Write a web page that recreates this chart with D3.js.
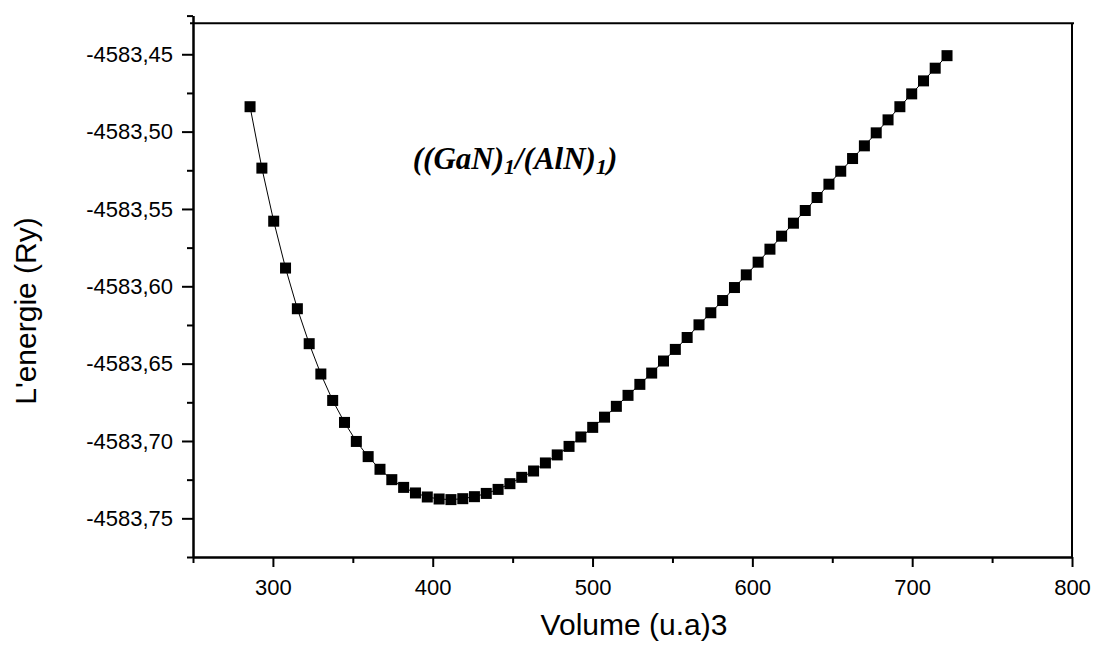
<!DOCTYPE html>
<html>
<head>
<meta charset="utf-8">
<script src="https://cdn.jsdelivr.net/npm/d3@7"></script>
<style>
  body { margin: 0; background: #fff; }
  svg { display: block; }
  .tick text { font-family: Arial, "Liberation Sans", sans-serif; font-size: 22px; fill: #000; }
</style>
</head>
<body>
<div class="energy-chart"></div>
<script>
// volume (u.a)^3
let volumes = [
  285.7, 293.1, 300.5, 307.9, 315.3, 322.7, 330.0, 337.4, 344.8, 352.2,
  359.6, 367.0, 374.4, 381.8, 389.2, 396.6, 404.0, 411.4, 418.8, 426.1,
  433.5, 440.9, 448.3, 455.7, 463.1, 470.5, 477.9, 485.3, 492.7, 500.1,
  507.5, 514.9, 522.2, 529.6, 537.0, 544.4, 551.8, 559.2, 566.6, 574.0,
  581.4, 588.8, 596.2, 603.6, 611.0, 618.3, 625.7, 633.1, 640.5, 647.9,
  655.3, 662.7, 670.1, 677.5, 684.9, 692.3, 699.7, 707.1, 714.4, 721.8
];

// energy (Ry)
let energies = [
  -4583.4839, -4583.5236, -4583.5579, -4583.5882, -4583.6145, -4583.6371, -4583.6567, -4583.6738, -4583.6880, -4583.7003,
  -4583.7101, -4583.7183, -4583.7250, -4583.7300, -4583.7336, -4583.7362, -4583.7375, -4583.7379, -4583.7373, -4583.7360,
  -4583.7339, -4583.7313, -4583.7276, -4583.7235, -4583.7194, -4583.7142, -4583.7090, -4583.7035, -4583.6974, -4583.6912,
  -4583.6846, -4583.6776, -4583.6705, -4583.6634, -4583.6561, -4583.6483, -4583.6408, -4583.6331, -4583.6249, -4583.6171,
  -4583.6092, -4583.6008, -4583.5926, -4583.5844, -4583.5760, -4583.5676, -4583.5592, -4583.5510, -4583.5426, -4583.5340,
  -4583.5256, -4583.5174, -4583.5092, -4583.5008, -4583.4924, -4583.4839, -4583.4756, -4583.4672, -4583.4590, -4583.4509
];

let xTicks = [300, 400, 500, 600, 700, 800];
let xMinorTicks = [250, 350, 450, 550, 650, 750];
let yTicks = [-4583.45, -4583.50, -4583.55, -4583.60, -4583.65, -4583.70, -4583.75];
let yMinorTicks = [-4583.425, -4583.475, -4583.525, -4583.575, -4583.625, -4583.675, -4583.725, -4583.775];

let xDomain = [250, 800];
let yDomain = [-4583.775, -4583.425];

let data = volumes.map((v, i) => ({ volume: v, energy: energies[i] }));

let svg = d3.select(".energy-chart").append("svg")
  .attr("width", 1096)
  .attr("height", 645);

let x = d3.scaleLinear().domain(xDomain).range([193, 1072]);
let y = d3.scaleLinear().domain(yDomain).range([557, 15.6]);

// plain hyphen and decimal comma, like the original
const commaFormat = d => d3.format(".2f")(d).replace("\u2212", "-").replace(".", ",");

// frame: top line and right side
svg.append("line")
  .attr("x1", x(250) - 3).attr("x2", x(800) + 2)
  .attr("y1", 23.3).attr("y2", 23.3)
  .attr("style", "stroke: #000; stroke-width: 2px;");
svg.append("line")
  .attr("x1", x(800)).attr("x2", x(800))
  .attr("y1", 23.3).attr("y2", y(yDomain[0]))
  .attr("style", "stroke: #000; stroke-width: 2px;");

function styleAxis(g) {
  g.select(".domain").attr("stroke-width", 2);
  g.selectAll(".tick line").attr("stroke-width", 2);
}

// x axis
let xAxis = d3.axisBottom(x).tickValues(xTicks).tickSizeInner(10).tickSizeOuter(0).tickPadding(12).tickFormat(d3.format("d"));
let xMinor = d3.axisBottom(x).tickValues(xMinorTicks).tickSizeInner(6).tickSizeOuter(0).tickFormat("");
svg.append("g").attr("transform", `translate(0,${y(yDomain[0])})`).call(xMinor).call(styleAxis);
svg.append("g").attr("transform", `translate(0,${y(yDomain[0])})`).call(xAxis).call(styleAxis);

// y axis
let yAxis = d3.axisLeft(y).tickValues(yTicks).tickSizeInner(11).tickSizeOuter(0).tickPadding(9).tickFormat(commaFormat);
let yMinor = d3.axisLeft(y).tickValues(yMinorTicks).tickSizeInner(6).tickSizeOuter(0).tickFormat("");
svg.append("g").attr("transform", `translate(${x(250)},0)`).call(yMinor).call(styleAxis);
svg.append("g").attr("transform", `translate(${x(250)},0)`).call(yAxis).call(styleAxis);

// connecting line + square markers
let lineValues = d3.line()
  .x(d => x(d.volume))
  .y(d => y(d.energy));

svg.append("path")
  .data([data])
  .attr("style", "stroke: #000; stroke-width: 1px; fill: none;")
  .attr("d", lineValues);

svg.selectAll(".pt")
  .data(data)
  .enter().append("rect")
  .attr("class", "pt")
  .attr("x", d => x(d.volume) - 5.5)
  .attr("y", d => y(d.energy) - 5.5)
  .attr("width", 11)
  .attr("height", 11)
  .attr("fill", "#000");

// axis titles
svg.append("text")
  .attr("x", 634).attr("y", 635)
  .attr("text-anchor", "middle")
  .attr("style", "font-family: Arial, 'Liberation Sans', sans-serif; font-size: 30px;")
  .text("Volume (u.a)3");

svg.append("text")
  .attr("transform", "translate(36,311) rotate(-90)")
  .attr("text-anchor", "middle")
  .attr("style", "font-family: Arial, 'Liberation Sans', sans-serif; font-size: 30px;")
  .text("L'energie (Ry)");

// compound label
let label = svg.append("text")
  .attr("x", 515).attr("y", 169)
  .attr("text-anchor", "middle")
  .attr("style", "font-family: 'Times New Roman', 'Liberation Serif', serif; font-size: 31px; font-weight: bold; font-style: italic;");
label.append("tspan").text("((GaN)");
label.append("tspan").attr("dy", 5).attr("font-size", "22px").text("1");
label.append("tspan").attr("dy", -5).text("/(AlN)");
label.append("tspan").attr("dy", 5).attr("font-size", "22px").text("1");
label.append("tspan").attr("dy", -5).text(")");
</script>
</body>
</html>
